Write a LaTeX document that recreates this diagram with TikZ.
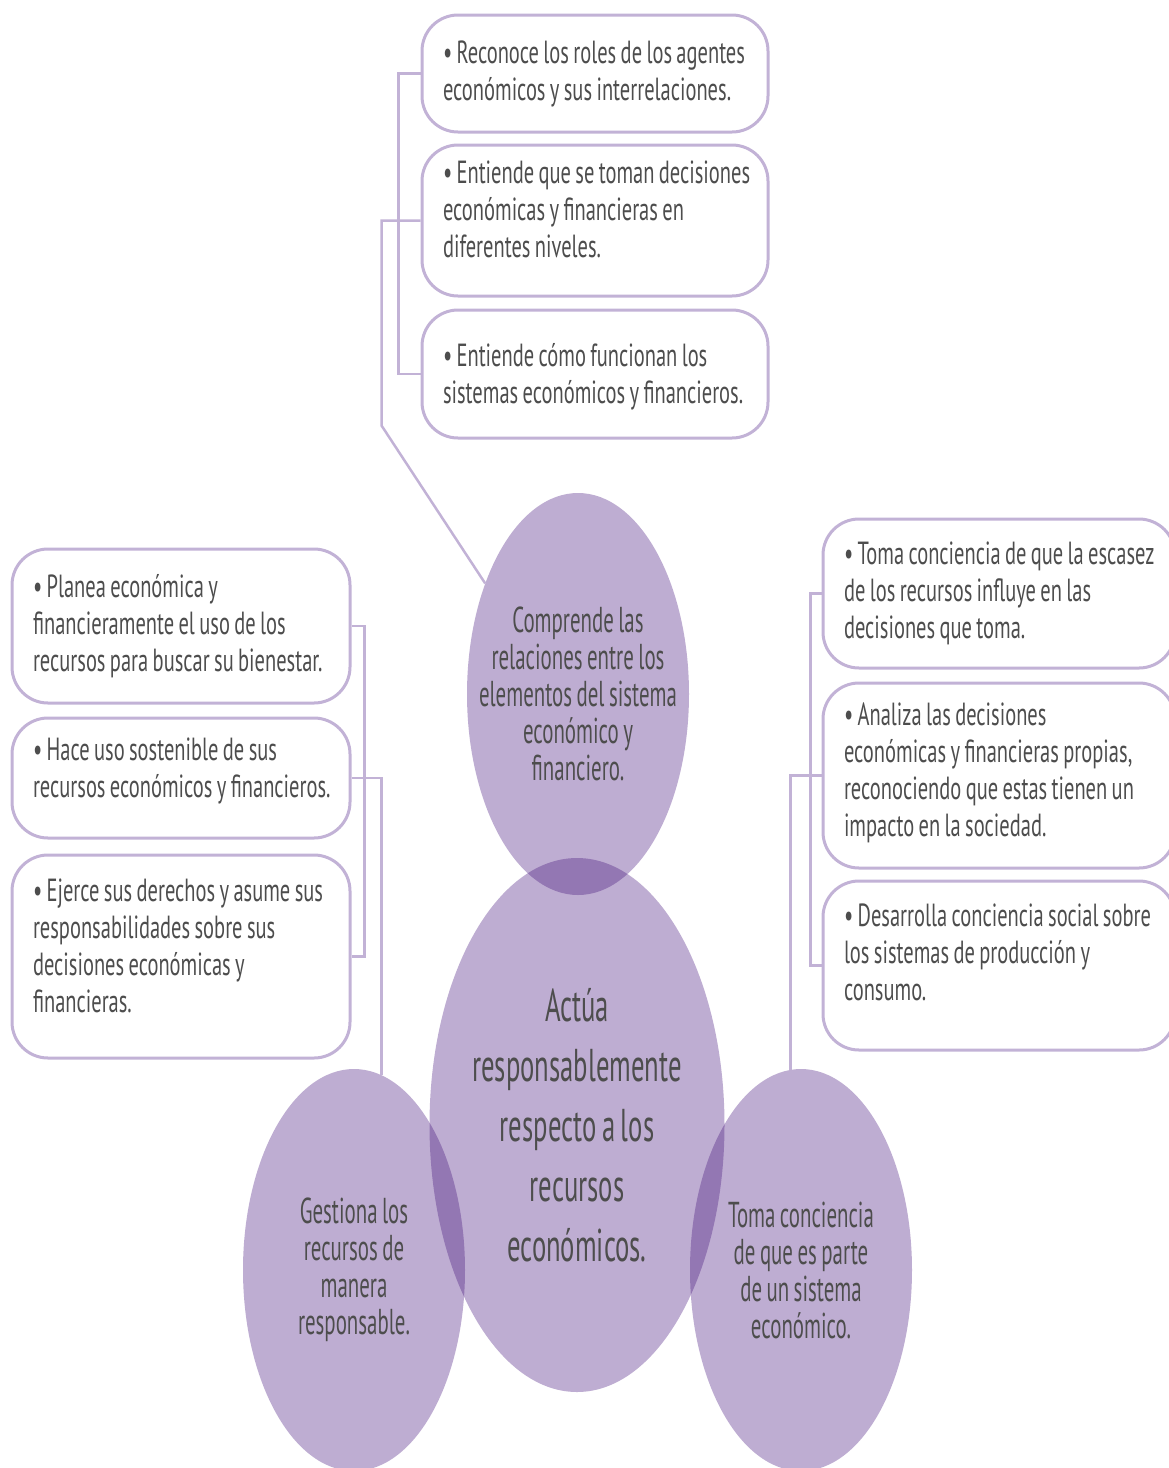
\documentclass[tikz,border=0pt]{standalone}
\usepackage{fontspec}
\setmainfont{PT Sans}[FakeStretch=0.58, WordSpace=0.8]
\newfontfamily\boxfont{PT Sans}[FakeStretch=0.64, WordSpace=0.8]
\usepackage{tikz}
\usetikzlibrary{shapes.geometric}
\definecolor{lilacline}{HTML}{C2B2D6}
\definecolor{lilacfill}{rgb}{0.232,0.028,0.46}
\definecolor{notetext}{HTML}{4D4D4D}
\tikzset{
    item-box/.style = {draw=lilacline, fill=white, line width=3pt, rectangle, rounded corners=36pt, inner sep=0pt, text=notetext, font=\boxfont\fontsize{32}{37}\selectfont},
    idea-circle/.style = {ellipse, fill=lilacfill, fill opacity=0.33, text opacity=1, text=notetext, align=center, inner xsep=-40pt, inner ysep=0pt, minimum width=222pt, minimum height=402pt, font=\fontsize{36}{37}\selectfont},
    link-line/.style = {draw=lilacline, line width=2.5pt},
}

\begin{document}
\begin{tikzpicture}[x=1pt, y=-1pt]
\useasboundingbox (0,0) rectangle (1169,1468);

% top group
\node[item-box] (T1) at (595,73.5) {\begin{minipage}[c][117pt][t]{346pt}\raggedright\leftskip=21pt\vspace*{26pt}
    \noindent\textbullet\ Reconoce los roles de los agentes\\económicos y sus interrelaciones.
\end{minipage}};
\node[item-box] (T2) at (595,220.5) {\begin{minipage}[c][151pt][t]{346pt}\raggedright\leftskip=21pt\vspace*{16pt}
    \noindent\textbullet\ Entiende que se toman decisiones\\económicas y financieras en\\diferentes niveles.
\end{minipage}};
\node[item-box] (T3) at (595,374) {\begin{minipage}[c][128pt][t]{346pt}\raggedright\leftskip=21pt\vspace*{33pt}
    \noindent\textbullet\ Entiende cómo funcionan los\\sistemas económicos y financieros.
\end{minipage}};

% left group
\node[item-box] (L1) at (181,626) {\begin{minipage}[c][154pt][t]{338pt}\raggedright\leftskip=21pt\vspace*{25pt}
    \noindent\textbullet\ Planea económica y\\financieramente el uso de los\\recursos para buscar su bienestar.
\end{minipage}};
\node[item-box] (L2) at (181,778) {\begin{minipage}[c][120pt][t]{338pt}\raggedright\leftskip=21pt\vspace*{20pt}
    \noindent\textbullet\ Hace uso sostenible de sus\\recursos económicos y financieros.
\end{minipage}};
\node[item-box] (L3) at (181,956.5) {\begin{minipage}[c][203pt][t]{338pt}\raggedright\leftskip=21pt\vspace*{24pt}
    \noindent\textbullet\ Ejerce sus derechos y asume sus\\responsabilidades sobre sus\\decisiones económicas y\\financieras.
\end{minipage}};

% right group
\node[item-box] (R1) at (999,593.5) {\begin{minipage}[c][149pt][t]{352pt}\raggedright\leftskip=21pt\vspace*{23pt}
    \noindent\textbullet\ Toma conciencia de que la escasez\\de los recursos influye en las\\decisiones que toma.
\end{minipage}};
\node[item-box] (R2) at (999,775.5) {\begin{minipage}[c][185pt][t]{352pt}\raggedright\leftskip=21pt\vspace*{20pt}
    \noindent\textbullet\ Analiza las decisiones\\económicas y financieras propias,\\reconociendo que estas tienen un\\impacto en la sociedad.
\end{minipage}};
\node[item-box] (R3) at (999,965.5) {\begin{minipage}[c][169pt][t]{352pt}\raggedright\leftskip=21pt\vspace*{23pt}
    \noindent\textbullet\ Desarrolla conciencia social sobre\\los sistemas de producción y\\consumo.
\end{minipage}};

% circles
\node[idea-circle] (top) at (578,694) {Comprende las\\relaciones entre los\\elementos del sistema\\económico y\\financiero.};
\node[idea-circle, minimum width=295pt, minimum height=534pt, font=\fontsize{46}{60}\selectfont] (main) at (577,1125) {Actúa\\responsablemente\\respecto a los\\recursos\\económicos.};
\node[idea-circle] (left) at (354,1270) {Gestiona los\\recursos de\\manera\\responsable.};
\node[idea-circle] (right) at (801,1270) {Toma conciencia\\de que es parte\\de un sistema\\económico.};

% connectors
\draw[link-line] (T1.west) -- ++(-22,0) |- (T3.west);
\draw[link-line] (T2.west) -- ++(-39,0) -- ++(0,205) -- (top.130);
\draw[link-line] (L1.east) -- ++(13,0) |- (L3.east);
\draw[link-line] (L2.east) -| (left.82);
\draw[link-line] (R1.west) -- ++(-11,0) |- (R3.west);
\draw[link-line] (R2.west) -| (right.93);
\end{tikzpicture}
\end{document}
